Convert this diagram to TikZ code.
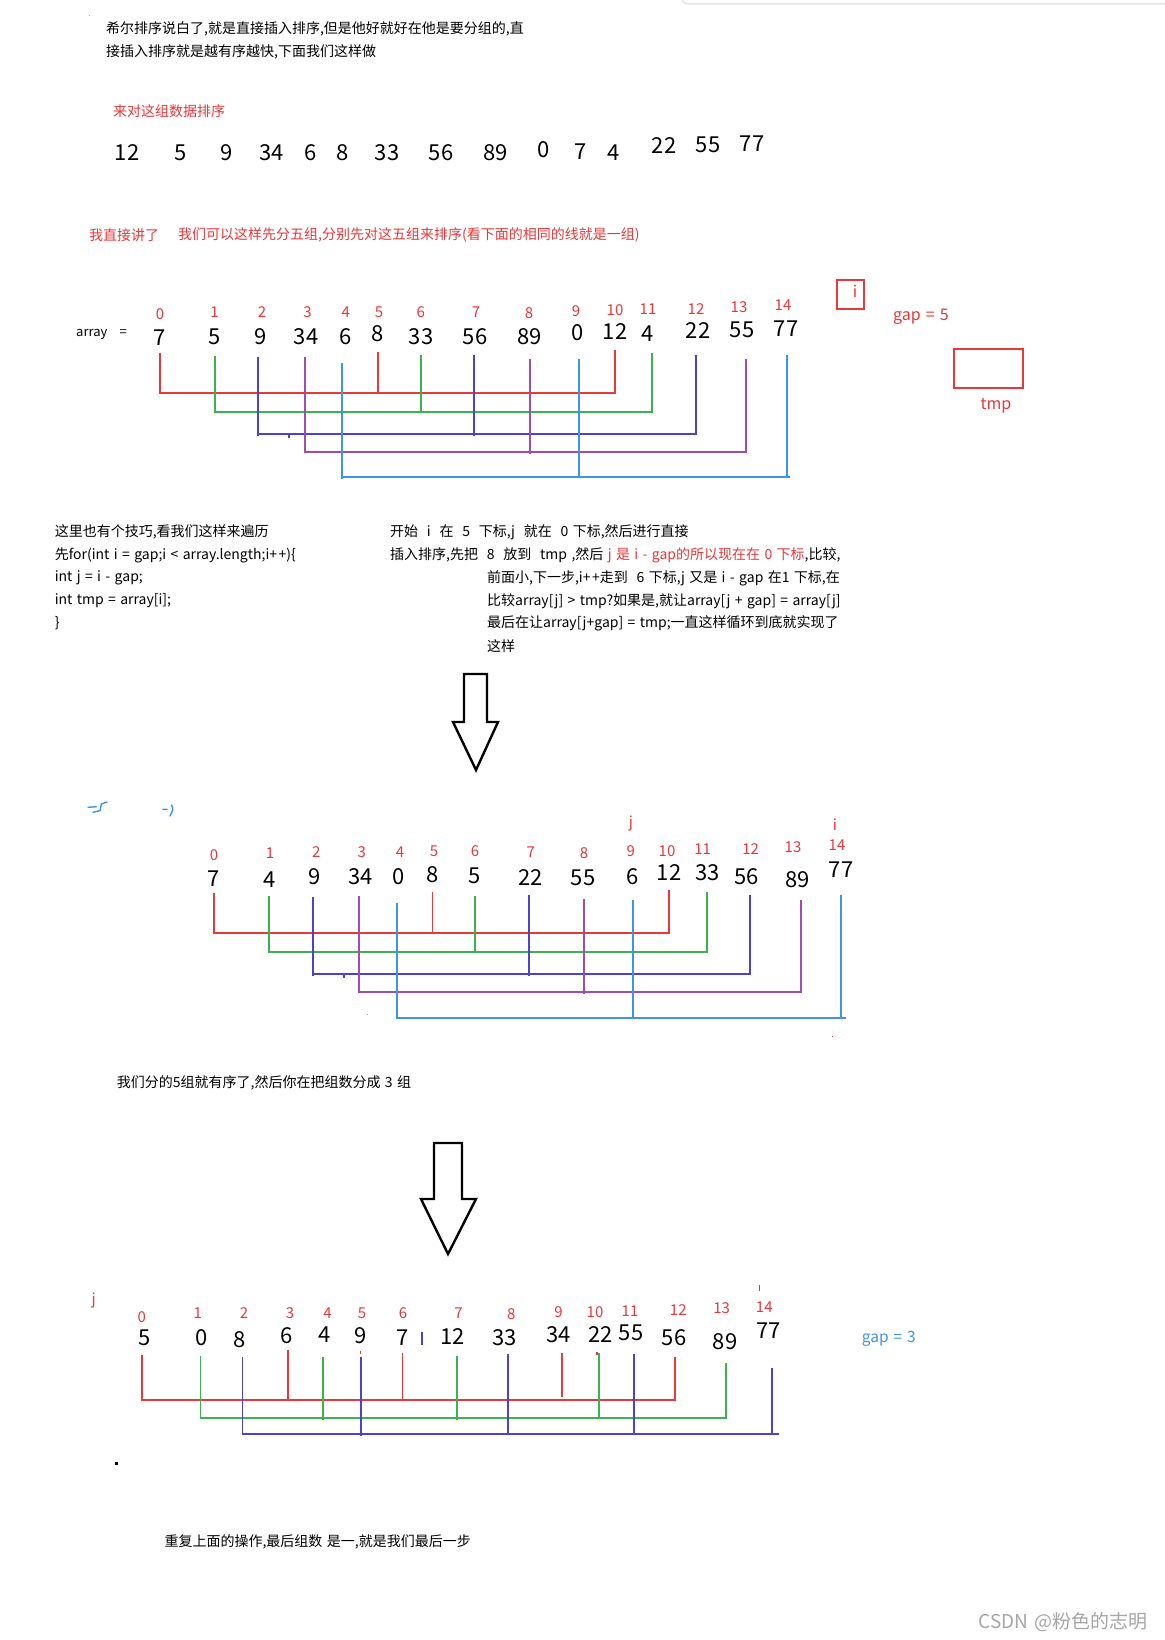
\documentclass[tikz,border=0pt]{standalone}
\usepackage{fontspec}
\setmainfont{Noto Sans CJK SC}[WordSpace=1.4]
\definecolor{cred}{HTML}{E8383A}
\definecolor{cgreen}{HTML}{3CB250}
\definecolor{cindigo}{HTML}{5040D0}
\definecolor{cpurple}{HTML}{A04CAA}
\definecolor{clblue}{HTML}{4094E4}
\begin{document}
\begin{tikzpicture}[x=1pt,y=-1pt,
  txt/.style={inner sep=0pt,anchor=west,font=\fontsize{14}{17}\selectfont},
  num/.style={inner sep=0pt,font=\fontsize{22}{24}\selectfont},
  idx/.style={inner sep=0pt,text=cred,font=\fontsize{15}{17}\selectfont},
  ln/.style={line width=1.8pt},
  boxr/.style={draw=cred,line width=1.6pt,inner sep=0pt},
  bigarrow/.style={draw=black,line width=2.4pt,line join=miter,fill=white},
  scrib/.style={draw=clblue,line width=1.4pt,line cap=round}]
\useasboundingbox[fill=white] (0,0) rectangle (1164,1640);

% top-right faint frame
\draw[black!10,line width=1.5pt,rounded corners=6pt] (682,-12) -- (682,4) -- (1172,4);
\fill[black!30] (88.5,15.5) rectangle (89.5,16.5);

% intro text
\node[txt] (t1) at (106,29) {希尔排序说白了,就是直接插入排序,但是他好就好在他是要分组的,直};
\node[txt] (t2) at (106,52) {接插入排序就是越有序越快,下面我们这样做};
\node[txt,text=cred] (t3) at (113,111) {来对这组数据排序};

\foreach \x/\y/\t [count=\k] in {127/153/12,181/153/5,226.5/153/9,271.6/153/34,310.7/153/6,343/153/8,387/153/33,441/153/56,495.5/153/89,544/150/0,580.5/152/7,614/153/4,664/146/22,708/145/55,752/144/77}
  \node[num] (r\k) at (\x,\y) {\t};

\node[txt,text=cred] (t4) at (89,235) {我直接讲了};
\node[txt,text=cred] (t5) at (178,235) {我们可以这样先分五组,分别先对这五组来排序(看下面的相同的线就是一组)};

% ---------- array 1 ----------
\node[txt,font=\fontsize{13}{15}\selectfont] (arr) at (76,334) {array\ \ \ =};
\foreach \x/\y/\t [count=\k] in {160/314/0,214.6/312/1,262/312/2,307.5/312/3,345.7/312/4,379/312/5,420.7/312/6,476/312/7,529/313/8,576/311/9,615/310/10,648/309/11,696/309/12,739/307/13,783/305/14}
  \node[idx] (ia\k) at (\x,\y) {\t};
\foreach \x/\y/\t [count=\k] in {160/338/7,214.6/337/5,261/337/9,306/337/34,345.7/337/6,378/334/8,421/337/33,475/337/56,529.6/337/89,578/333/0,615/332/12,648/334/4,698/331/22,742/330/55,786/329/77}
  \node[num] (va\k) at (\x,\y) {\t};

\draw[ln,cred] (160,393)--(615,393) (160,353)--(160,394) (378,352)--(378,393) (615,350)--(615,393.9);
\draw[ln,cgreen] (214.6,412)--(652,412) (214.6,356)--(214.6,413) (420.7,355)--(420.7,412) (652,353)--(652,412.9);
\draw[ln,cindigo] (258,434)--(696,434) (258,357)--(258,436) (474,355)--(474,436) (696,355)--(696,434.9) (288.6,434)--(288.6,438);
\draw[ln,cpurple] (304.6,452)--(746,452) (304.6,357)--(304.6,453) (529.6,359)--(529.6,454) (746,359)--(746,452.9);
\draw[ln,clblue] (342,477)--(790,477) (342,363)--(342,479) (578.6,359)--(578.6,478) (787,355)--(787,477);

\node[boxr,minimum width=27pt,minimum height=29pt] (ibox) at (850.5,294.5) {};
\node[idx,font=\fontsize{16}{18}\selectfont] (ilab) at (855,291) {i};
\node[txt,text=cred,font=\fontsize{16}{18}\selectfont] (gap5) at (893,317) {gap = 5};
\node[boxr,minimum width=69pt,minimum height=39pt] (tmpbox) at (988.5,368.5) {};
\node[idx,font=\fontsize{16}{18}\selectfont] (tmplab) at (996,406) {tmp};

% ---------- explanation ----------
\node[txt] (l1) at (54.6,532) {这里也有个技巧,看我们这样来遍历};
\node[txt] (l2) at (54.6,555) {先for(int i = gap;i < array.length;i+\kern1.5pt+)\{};
\node[txt] (l3) at (54.6,578) {int j = i - gap;};
\node[txt] (l4) at (54.6,601) {int tmp = array[i];};
\node[txt] (l5) at (54.6,623) {\}};

\node[txt] (m1) at (390,532) {开始 ~i~ 在 ~5~ 下标,j ~就在 ~0 下标,然后进行直接};
\node[txt] (m2) at (390,555) {插入排序,先把 ~8~ 放到 ~tmp ,然后 \textcolor{cred}{j 是 i - gap的所以现在在 0 下标},比较,};
\node[txt] (m3) at (487,578) {前面小,下一步,i+\kern1.5pt+走到 ~6 下标,j 又是 i - gap 在1 下标,在};
\node[txt] (m4) at (487,601) {比较array[j] > tmp?如果是,就让array[j + gap] = array[j]};
\node[txt] (m5) at (487,623) {最后在让array[j+gap] = tmp;一直这样循环到底就实现了};
\node[txt] (m6) at (487,646) {这样};

\draw[bigarrow] (464,674)--(487,674)--(487,722)--(498,722)--(476,770)--(453,722)--(464,722)--cycle;

% ---------- array 2 ----------
\draw[scrib] (88,807.3)--(96.4,806.7) (92.9,812.3)--(100,810.7)--(101.4,804)--(107.1,802);
\draw[scrib] (162.9,809.3)--(167.1,809.3) (171.4,805) .. controls (173.5,809) .. (170,816);

\foreach \x/\y/\t [count=\k] in {214/855/0,270/853/1,316.4/852/2,361.8/852/3,400/852/4,434/851/5,475/851/6,530.7/852/7,584/853/8,630.7/851/9,667/851/10,702.7/849/11,750.7/849/12,793/847/13,837/845/14}
  \node[idx] (ib\k) at (\x,\y) {\t};
\node[idx] (jb) at (631,823) {j};
\node[idx] (ib) at (835,825) {i};
\foreach \x/\y/\t [count=\k] in {214/879/7,270/880/4,315/877/9,360.7/877/34,398.6/877/0,432.5/875/8,475/876/5,530.7/878/22,583/878/55,633/877/6,669/873/12,707.7/873/33,746.7/877/56,797.7/880/89,841/870/77}
  \node[num] (vb\k) at (\x,\y) {\t};

\draw[ln,cred] (214,932.7)--(669.3,932.7) (214,893)--(214,934) (432.5,891.7)--(432.5,933) (669.3,890)--(669.3,933.6);
\draw[ln,cgreen] (269,951.7)--(707,951.7) (269,896)--(269,953) (475,895.7)--(475,952) (707,892)--(707,952.6);
\draw[ln,cindigo] (312.9,974.3)--(750.3,974.3) (312.9,897)--(312.9,976) (529,895)--(529,976) (750.3,895)--(750.3,975.2) (344,974)--(344,978);
\draw[ln,cpurple] (358.6,992.3)--(800.7,992.3) (358.6,896)--(358.6,993) (584,899)--(584,994) (800.7,900)--(800.7,993.2);
\draw[ln,clblue] (396.8,1017.7)--(845.7,1017.7) (396.8,903)--(396.8,1019) (633.3,900)--(633.3,1018) (841,895)--(841,1018);
\fill[cpurple!60] (367.4,1013.5) rectangle (368.4,1014.5);
\fill[cred] (832.2,1035.5) rectangle (833.2,1036.5);

\node[txt] (t6) at (116.7,1083) {我们分的5组就有序了,然后你在把组数分成 3 组};

\draw[bigarrow] (434,1143)--(462,1143)--(462,1199)--(476,1199)--(448,1254)--(421,1199)--(434,1199)--cycle;

% ---------- array 3 ----------
\node[idx] (jc) at (93.6,1300) {j};
\foreach \x/\y/\t [count=\k] in {141.8/1316.7/0,197.9/1313/1,244/1313/2,290/1313/3,327.5/1313/4,362/1313/5,403/1313/6,458.6/1313/7,511.4/1314/8,558.6/1312/9,595/1312/10,630/1311/11,678.3/1310/12,721.7/1308/13,764.3/1307/14}
  \node[idx] (ic\k) at (\x,\y) {\t};
\foreach \x/\y/\t [count=\k] in {144.3/1338/5,201.4/1338/0,239.6/1340/8,287/1336/6,324.6/1335/4,360.4/1336/9,403/1338/7,452.5/1336/12,504.3/1338/33,558.6/1335/34,600.7/1334/22,631/1333/55,674/1338/56,725/1342/89,768.3/1331/77}
  \node[num] (vc\k) at (\x,\y) {\t};
\draw[cred,line width=1.3pt] (759.3,1285)--(759.3,1291);
\draw[cindigo,line width=1.5pt] (421.8,1332)--(421.8,1345);
\node[txt,text=clblue,font=\fontsize{15.5}{17}\selectfont] (gap3) at (861.7,1339) {gap = 3};

\draw[ln,cred] (141.8,1400)--(674,1400) (141.8,1355)--(141.8,1401) (287.9,1350)--(287.9,1400) (402.5,1352.7)--(402.5,1400) (562,1353)--(562,1396.7) (675,1356.7)--(675,1401) (597,1351.7)--(597,1355) (360.4,1351)--(360.4,1354);
\draw[ln,cgreen] (200.4,1418.3)--(726,1418.3) (200.4,1356)--(200.4,1419) (322.9,1356.7)--(322.9,1420) (456.8,1355.7)--(456.8,1420) (599.3,1353)--(599.3,1418) (725.7,1363)--(725.7,1419);
\draw[ln,cindigo] (242.5,1434)--(779.3,1434) (242.5,1357)--(242.5,1434.9) (361,1357)--(361,1436) (507.9,1354)--(507.9,1434) (634,1354)--(634,1434) (772,1367.7)--(772,1434);

\fill[black] (114.5,1461.5) rectangle (117.5,1464.5);

\node[txt] (t7) at (164.4,1541.7) {重复上面的操作,最后组数 是一,就是我们最后一步};
\node[txt,text=black!35,font=\fontsize{19}{21}\selectfont] (wm) at (978.6,1621.7) {CSDN @粉色的志明};
\end{tikzpicture}
\end{document}
